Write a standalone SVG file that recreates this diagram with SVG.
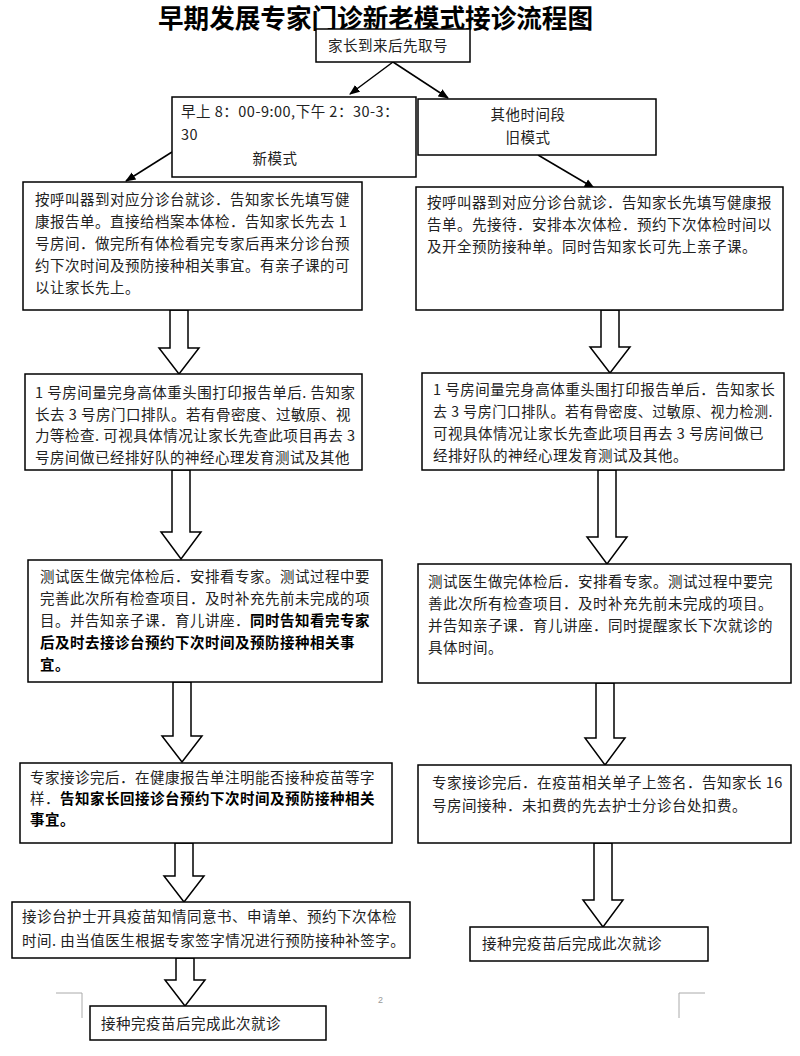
<svg xmlns="http://www.w3.org/2000/svg" width="800" height="1056" viewBox="0 0 800 1056">
<defs>
<style>
.box{fill:#fff;stroke:#000;stroke-width:1.5}
.t{font-family:"Noto Sans CJK SC","Liberation Sans",sans-serif;font-size:14.5px;letter-spacing:0.5px;fill:#222}
.b{font-weight:bold;fill:#000}
.c{text-anchor:middle}
.title{font-family:"Noto Sans CJK SC","Liberation Sans",sans-serif;font-size:26px;font-weight:bold;fill:#000}
.ln{stroke:#000;stroke-width:1.5;fill:none}
.blk{fill:#fff;stroke:#000;stroke-width:1.5}
.corner{stroke:#aaa;stroke-width:1;fill:none}
</style>
<marker id="ah" viewBox="0 0 10 10" refX="9" refY="5" markerWidth="7" markerHeight="7" orient="auto">
<path d="M0,1 L10,5 L0,9 Z" fill="#000"/>
</marker>
</defs>
<rect width="800" height="1056" fill="#fff"/>
<text class="title" x="158" y="28" textLength="435" lengthAdjust="spacingAndGlyphs">早期发展专家门诊新老模式接诊流程图</text>

<g id="connectors">
<line class="ln" x1="393" y1="62" x2="350" y2="94" marker-end="url(#ah)"/>
<line class="ln" x1="393" y1="62" x2="448" y2="98" marker-end="url(#ah)"/>
<line class="ln" x1="172" y1="152" x2="126" y2="181" marker-end="url(#ah)"/>
<line class="ln" x1="538" y1="155" x2="594" y2="188" marker-end="url(#ah)"/>
<path class="blk" d="M170,310 L188,310 L188,348 L199,348 L179,374 L159,348 L170,348 Z"/>
<path class="blk" d="M172,470 L190,470 L190,532 L201,532 L181,559 L161,532 L172,532 Z"/>
<path class="blk" d="M173,682 L191,682 L191,736 L202,736 L182,762 L162,736 L173,736 Z"/>
<path class="blk" d="M175,843 L193,843 L193,876 L204,876 L184,902 L164,876 L175,876 Z"/>
<path class="blk" d="M176,958 L194,958 L194,980 L205,980 L185,1006 L165,980 L176,980 Z"/>
<path class="blk" d="M601,310 L619,310 L619,347 L630,347 L610,373 L590,347 L601,347 Z"/>
<path class="blk" d="M598,470 L616,470 L616,537 L627,537 L607,564 L587,537 L598,537 Z"/>
<path class="blk" d="M596,683 L614,683 L614,738 L625,738 L605,765 L585,738 L596,738 Z"/>
<path class="blk" d="M594,843 L612,843 L612,900 L623,900 L603,927 L583,900 L594,900 Z"/>
</g>

<g id="start">
<rect class="box" x="316" y="29" width="154" height="33"/>
<text class="t" x="328" y="51">家长到来后先取号</text>
</g>

<g id="new-mode">
<rect class="box" x="172" y="97" width="244" height="80"/>
<text class="t" x="181" y="117">早上 8：00-9:00,下午 2：30-3：</text>
<text class="t" x="181" y="140">30</text>
<text class="t c" x="275" y="164">新模式</text>
</g>

<g id="old-mode">
<rect class="box" x="418" y="99" width="238" height="56"/>
<text class="t c" x="528" y="120">其他时间段</text>
<text class="t c" x="528" y="143">旧模式</text>
</g>

<g id="L1">
<rect class="box" x="23" y="182" width="339" height="128"/>
<text class="t" x="35" y="205">按呼叫器到对应分诊台就诊．告知家长先填写健</text>
<text class="t" x="35" y="227">康报告单。直接给档案本体检．告知家长先去 1</text>
<text class="t" x="35" y="249">号房间．做完所有体检看完专家后再来分诊台预</text>
<text class="t" x="35" y="271">约下次时间及预防接种相关事宜。有亲子课的可</text>
<text class="t" x="35" y="293">以让家长先上。</text>
</g>

<g id="R1">
<rect class="box" x="416" y="187" width="367" height="123"/>
<text class="t" x="427" y="208">按呼叫器到对应分诊台就诊．告知家长先填写健康报</text>
<text class="t" x="427" y="230">告单。先接待．安排本次体检．预约下次体检时间以</text>
<text class="t" x="427" y="252">及开全预防接种单。同时告知家长可先上亲子课。</text>
</g>

<g id="L2">
<rect class="box" x="25" y="374" width="337" height="96"/>
<text class="t" x="35" y="398">1 号房间量完身高体重头围打印报告单后. 告知家</text>
<text class="t" x="35" y="420">长去 3 号房门口排队。若有骨密度、过敏原、视</text>
<text class="t" x="35" y="441">力等检查. 可视具体情况让家长先查此项目再去 3</text>
<text class="t" x="35" y="463">号房间做已经排好队的神经心理发育测试及其他</text>
</g>

<g id="R2">
<rect class="box" x="422" y="373" width="362" height="97"/>
<text class="t" x="433" y="395">1 号房间量完身高体重头围打印报告单后．告知家长</text>
<text class="t" x="433" y="417" textLength="340" lengthAdjust="spacingAndGlyphs">去 3 号房门口排队。若有骨密度、过敏原、视力检测.</text>
<text class="t" x="433" y="439">可视具体情况让家长先查此项目再去 3 号房间做已</text>
<text class="t" x="433" y="461">经排好队的神经心理发育测试及其他。</text>
</g>

<g id="L3">
<rect class="box" x="28" y="560" width="354" height="122"/>
<text class="t" x="40" y="582">测试医生做完体检后．安排看专家。测试过程中要</text>
<text class="t" x="40" y="604">完善此次所有检查项目．及时补充先前未完成的项</text>
<text class="t" x="40" y="626">目。并告知亲子课．育儿讲座．<tspan class="b">同时告知看完专家</tspan></text>
<text class="t b" x="40" y="648">后及时去接诊台预约下次时间及预防接种相关事</text>
<text class="t b" x="40" y="670">宜。</text>
</g>

<g id="R3">
<rect class="box" x="418" y="564" width="373" height="119"/>
<text class="t" x="428" y="587">测试医生做完体检后．安排看专家。测试过程中要完</text>
<text class="t" x="428" y="609">善此次所有检查项目．及时补充先前未完成的项目。</text>
<text class="t" x="428" y="631">并告知亲子课．育儿讲座．同时提醒家长下次就诊的</text>
<text class="t" x="428" y="653">具体时间。</text>
</g>

<g id="L4">
<rect class="box" x="20" y="763" width="372" height="80"/>
<text class="t" x="30" y="783">专家接诊完后．在健康报告单注明能否接种疫苗等字</text>
<text class="t" x="30" y="804">样．<tspan class="b">告知家长回接诊台预约下次时间及预防接种相关</tspan></text>
<text class="t b" x="30" y="825">事宜。</text>
</g>

<g id="R4">
<rect class="box" x="418" y="765" width="373" height="78"/>
<text class="t" x="432" y="788">专家接诊完后．在疫苗相关单子上签名．告知家长 16</text>
<text class="t" x="432" y="811">号房间接种．未扣费的先去护士分诊台处扣费。</text>
</g>

<g id="L5">
<rect class="box" x="12" y="902" width="398" height="56"/>
<text class="t" x="22" y="922">接诊台护士开具疫苗知情同意书、申请单、预约下次体检</text>
<text class="t" x="22" y="946">时间. 由当值医生根据专家签字情况进行预防接种补签字。</text>
</g>

<g id="R5">
<rect class="box" x="470" y="927" width="238" height="34"/>
<text class="t" x="482" y="949">接种完疫苗后完成此次就诊</text>
</g>

<g id="L6">
<rect class="box" x="90" y="1006" width="236" height="34"/>
<text class="t" x="101" y="1029">接种完疫苗后完成此次就诊</text>
</g>

<path class="corner" d="M56,993 L82,993 L82,1018"/>
<path class="corner" d="M705,993 L679,993 L679,1018"/>
<text x="378" y="1003" font-family="Liberation Sans, sans-serif" font-size="9" fill="#999">2</text>
</svg>
